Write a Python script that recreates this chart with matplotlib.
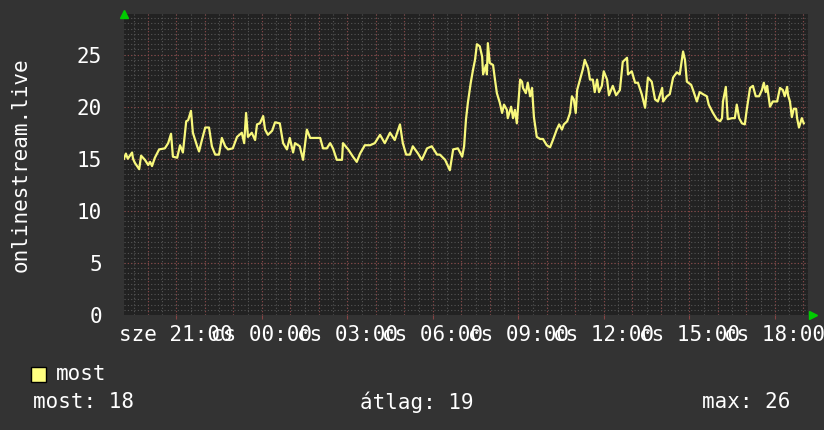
import matplotlib
matplotlib.use("Agg")
import matplotlib.pyplot as plt
import numpy as np

# minutes since 19:10 (start of the 24h window) and the "most" value
minutes = [
    0, 4, 8, 17, 19, 23, 32, 36, 44, 51, 55, 59, 65, 74, 86, 93, 99, 103, 112, 118,
    124, 131, 135, 141, 145, 154, 158, 164, 171, 179, 185, 192, 200, 206, 213, 219, 229, 238, 248, 253,
    257, 261, 269, 276, 280, 286, 293, 297, 303, 312, 318, 328, 335, 343, 349, 356, 360, 370, 377, 385,
    392, 413, 419, 427, 434, 440, 448, 459, 461, 472, 482, 490, 497, 507, 518, 528, 539, 549, 560, 570,
    581, 587, 594, 602, 608, 619, 627, 638, 648, 659, 665, 676, 686, 693, 703, 712, 716, 720, 724, 730,
    735, 739, 743, 749, 754, 756, 762, 764, 766, 770, 777, 781, 785, 791, 796, 800, 806, 808, 815, 819,
    823, 827, 834, 838, 840, 846, 850, 855, 859, 863, 869, 876, 882, 890, 897, 903, 911, 916, 922, 926,
    933, 939, 943, 947, 951, 954, 960, 966, 970, 977, 981, 987, 991, 996, 1000, 1006, 1010, 1017, 1021, 1029,
    1036, 1044, 1050, 1059, 1061, 1069, 1076, 1082, 1090, 1097, 1103, 1111, 1118, 1124, 1133, 1135, 1143, 1149, 1156, 1164,
    1170, 1177, 1181, 1185, 1194, 1198, 1206, 1212, 1219, 1227, 1231, 1240, 1248, 1255, 1259, 1261, 1267, 1271, 1280, 1286,
    1290, 1295, 1301, 1307, 1311, 1318, 1324, 1330, 1337, 1343, 1347, 1351, 1354, 1360, 1366, 1375, 1381, 1387, 1391, 1396,
    1398, 1402, 1406, 1410, 1415, 1417, 1421, 1427, 1431,
]
most = [
    15.0, 15.5, 15.0, 15.6, 15.0, 14.6, 14.0, 15.3, 14.9, 14.4, 14.7, 14.3, 15.1, 15.9, 16.0, 16.5, 17.4, 15.2, 15.1, 16.3,
    15.6, 18.6, 18.7, 19.6, 17.5, 16.2, 15.7, 16.8, 18.0, 18.0, 16.2, 15.4, 15.4, 17.0, 16.2, 15.9, 16.0, 17.1, 17.5, 16.5,
    19.4, 17.1, 17.5, 16.8, 18.3, 18.4, 19.1, 17.8, 17.3, 17.7, 18.5, 18.4, 16.5, 15.9, 17.0, 15.6, 16.5, 16.2, 14.9, 17.8,
    17.0, 17.0, 16.0, 16.0, 16.5, 16.0, 14.9, 14.9, 16.5, 15.9, 15.2, 14.7, 15.5, 16.3, 16.3, 16.5, 17.3, 16.5, 17.5, 16.8,
    18.3, 16.5, 15.4, 15.4, 16.2, 15.5, 14.9, 16.0, 16.2, 15.4, 15.4, 14.9, 13.9, 15.9, 16.0, 15.2, 16.2, 18.8, 20.4, 22.3,
    23.6, 24.5, 26.0, 25.8, 24.8, 23.1, 24.0, 23.1, 26.1, 24.2, 24.0, 22.6, 21.3, 20.4, 19.4, 20.2, 19.7, 18.9, 20.0, 18.9,
    19.7, 18.4, 22.6, 22.4, 21.8, 21.3, 22.3, 21.0, 21.8, 19.0, 17.1, 16.9, 16.9, 16.3, 16.1, 16.8, 17.8, 18.3, 17.8, 18.3,
    18.6, 19.4, 21.0, 20.7, 19.4, 21.6, 22.6, 23.6, 24.5, 23.7, 22.6, 22.6, 21.4, 22.6, 21.4, 22.0, 23.4, 22.6, 21.1, 22.0,
    21.1, 21.6, 24.3, 24.7, 23.1, 23.4, 22.3, 22.3, 21.2, 19.9, 22.8, 22.4, 20.7, 20.5, 21.8, 20.5, 21.0, 21.2, 22.8, 23.3,
    23.1, 25.3, 24.5, 22.4, 22.1, 21.6, 20.5, 21.4, 21.2, 21.0, 20.2, 19.4, 18.8, 18.6, 18.9, 20.5, 21.9, 18.8, 18.9, 18.9,
    20.2, 18.9, 18.4, 18.3, 19.7, 21.8, 22.0, 21.0, 21.0, 21.6, 22.3, 21.4, 22.0, 20.0, 20.5, 20.5, 21.8, 21.6, 21.0, 21.9,
    21.1, 20.5, 19.0, 19.8, 19.8, 18.9, 18.0, 18.9, 18.4,
]

# x tick positions (minutes) and labels
tick_minutes = [110, 290, 470, 650, 830, 1010, 1190, 1370]
tick_labels = ["sze 21:00", "cs 00:00", "cs 03:00", "cs 06:00",
               "cs 09:00", "cs 12:00", "cs 15:00", "cs 18:00"]
y_ticks = [0, 5, 10, 15, 20, 25]

stat_labels = ["most: 18", "átlag: 19", "max: 26"]

BG = "#333333"
CANVAS = "#222222"
LINE = "#f8f87c"
MINOR = "#555555"
MAJOR = "#874444"
FONT = "DejaVu Sans Mono"

plt.rcParams["font.family"] = [FONT, "DejaVu Sans"]

fig = plt.figure(figsize=(8.24, 4.30), dpi=100, facecolor=BG)
ax = fig.add_axes([124 / 824, 1 - 315 / 430, 684 / 824, 301 / 430])
ax.set_facecolor(CANVAS)

ax.set_xlim(0, 1440)
ax.set_ylim(0, 28.9)

# minor grid
for m in np.arange(20, 1440, 30):
    ax.axvline(m, color=MINOR, lw=0.8, ls=(0, (1, 2)), zorder=1)
for v in np.arange(0.5, 29, 0.5):
    ax.axhline(v, color=MINOR, lw=0.8, ls=(0, (1, 2)), zorder=1)
# major grid
for m in np.arange(50, 1440, 60):
    ax.axvline(m, color=MAJOR, lw=0.8, ls=(0, (1, 2)), zorder=2)
for v in y_ticks[1:]:
    ax.axhline(v, color=MAJOR, lw=0.8, ls=(0, (1, 2)), zorder=2)

ax.plot(minutes, most, color=LINE, lw=1.6, zorder=3)

for s in ax.spines.values():
    s.set_visible(False)

ax.set_xticks(tick_minutes)
ax.set_xticklabels(tick_labels)
ax.set_yticks(y_ticks)
ax.tick_params(axis="x", colors=MAJOR, length=3, width=0.8, pad=4,
               labelcolor="white", labelsize=15)
ax.tick_params(axis="y", length=0, pad=16, labelcolor="white", labelsize=15)

ax.set_ylabel("onlinestream.live", color="white", fontsize=15, labelpad=38)
ax.yaxis.set_label_coords(-0.136, 0.5)

# rrdtool style axis arrows
ax.plot([0], [1.0], marker="^", color="#00cc00", ms=6, transform=ax.transAxes,
        clip_on=False, zorder=5)
ax.plot([1.0075], [0.0], marker=">", color="#00cc00", ms=6, transform=ax.transAxes,
        clip_on=False, zorder=5)

# legend
fig.patches.append(plt.Rectangle((31 / 824, 1 - 382 / 430), 15 / 824, 15 / 430,
                                 transform=fig.transFigure, facecolor="#ffff80",
                                 edgecolor="black", lw=1))
fig.text(56 / 824, 1 - 374 / 430, "most", color="white", fontsize=15, va="center")
fig.text(33 / 824, 1 - 402 / 430, stat_labels[0], color="white", fontsize=15, va="center")
fig.text(360 / 824, 1 - 402 / 430, stat_labels[1], color="white", fontsize=15, va="center")
fig.text(702 / 824, 1 - 402 / 430, stat_labels[2], color="white", fontsize=15, va="center")

fig.savefig("out.png", dpi=100, facecolor=BG)
